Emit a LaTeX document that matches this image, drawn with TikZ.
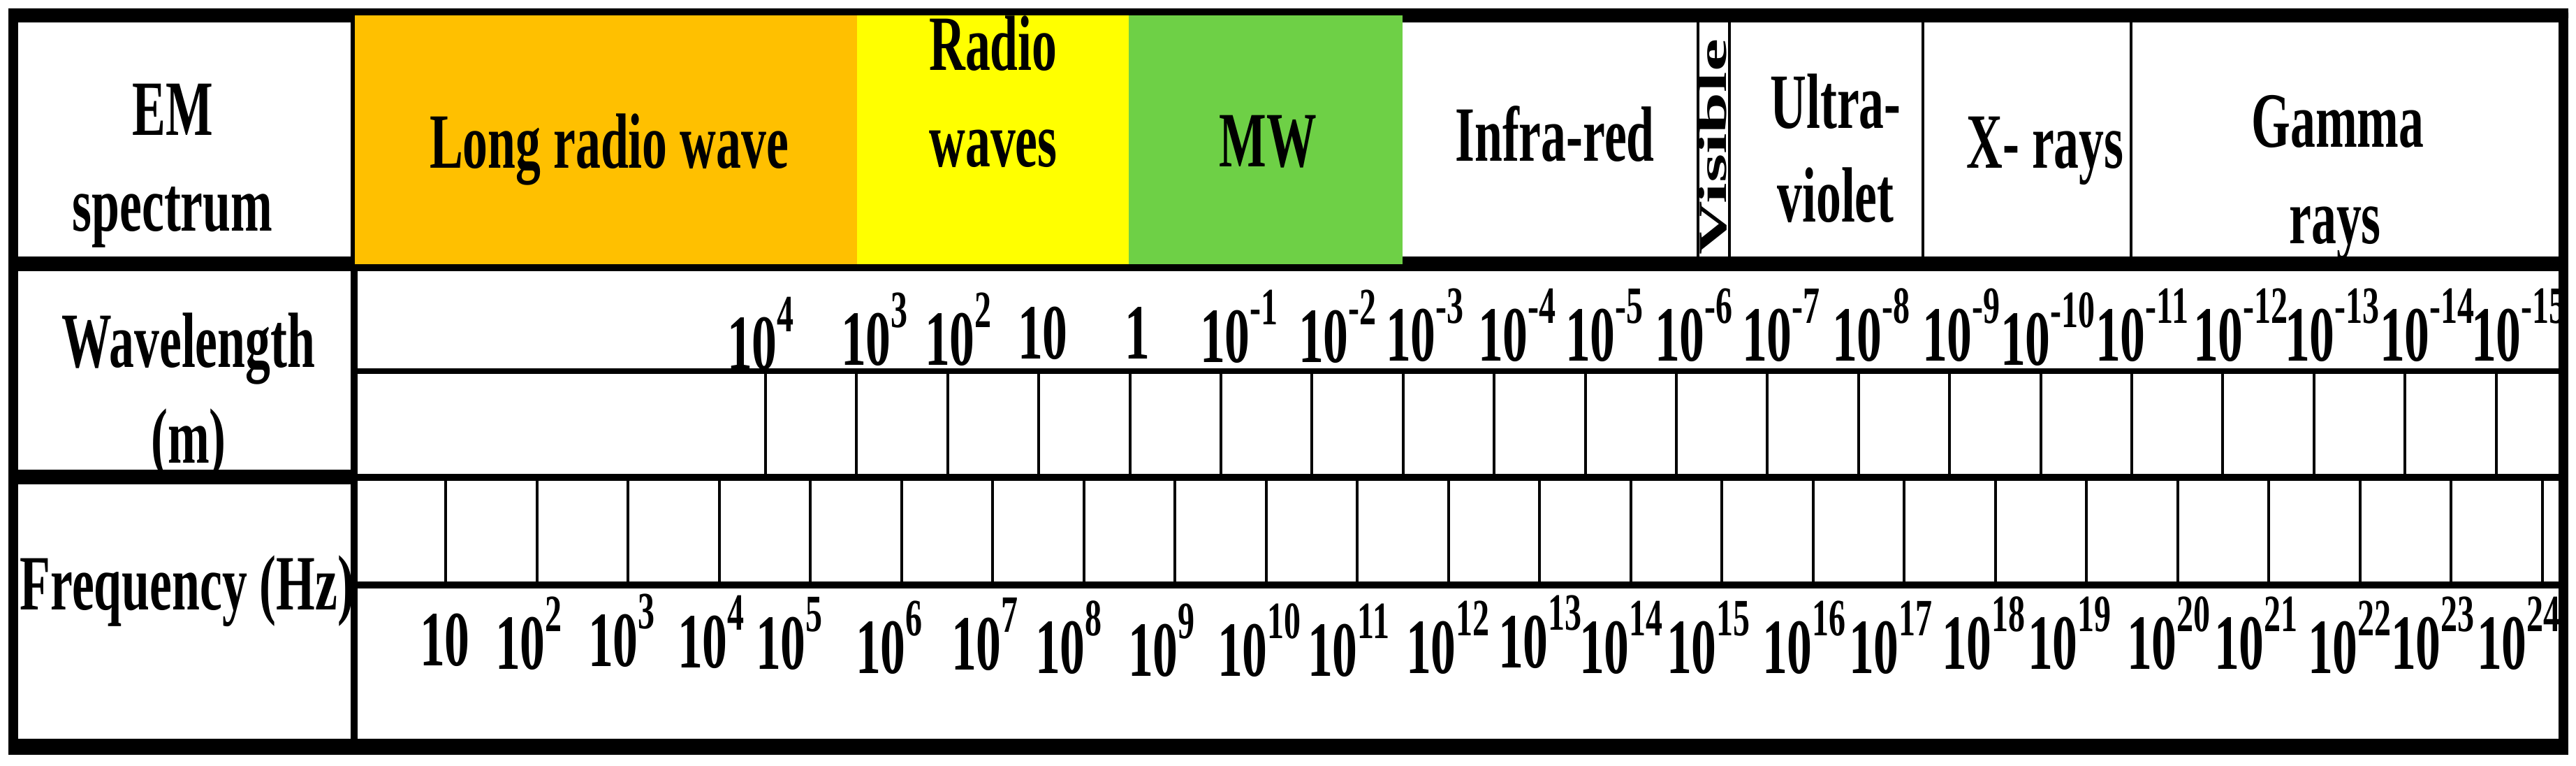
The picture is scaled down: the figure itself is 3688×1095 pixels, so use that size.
\documentclass[tikz,border=0pt]{standalone}
\usepackage{fontspec}
\setmainfont{Liberation Serif}[FakeStretch=0.64]
\newfontfamily\plainserif{Liberation Serif}
\definecolor{orng}{RGB}{255,192,0}
\definecolor{yllw}{RGB}{255,255,0}
\definecolor{grn}{RGB}{110,208,70}
\newcommand{\pw}[1]{10\raisebox{54pt}{\fontsize{75}{80}\selectfont#1}}
\begin{document}
\begin{tikzpicture}[x=1pt,y=-1pt,
  lbl/.style={inner sep=0pt, outer sep=0pt, anchor=base, font=\fontsize{112}{137}\selectfont\bfseries},
  num/.style={inner sep=0pt, outer sep=0pt, anchor=base west, font=\fontsize{112}{137}\selectfont\bfseries},
  rule/.style={fill=black},
  thin/.style={line width=4pt, black}]
\useasboundingbox (0,0) rectangle (3688,1095);
\fill[white] (0,0) rectangle (3688,1095);
% thick rules and frame
\fill[rule, rounded corners=6pt] (12,12) rectangle (3677,32);
\fill[rule] (12,1057) rectangle (3677,1080);
\fill[rule] (12,12) rectangle (26,1080);
\fill[rule] (3663,12) rectangle (3677,1080);
\fill[rule] (12,367) rectangle (3677,388);
\fill[rule] (12,672) rectangle (506,693);
\fill[rule] (506,678) rectangle (3677,688);
\fill[rule] (502,12) rectangle (512,1080);
\fill[rule] (509,527) rectangle (3663,535);
\fill[rule] (509,832) rectangle (3663,842);
% coloured cells
\fill[orng] (508,22) rectangle (1227,378);
\fill[yllw] (1227,22) rectangle (1616,378);
\fill[grn] (1616,22) rectangle (2008,378);
% row 1 dividers
\foreach \x in {2431,2476,2753,3051} \draw[thin] (\x,32) -- (\x,367);
% wavelength grid
\foreach \k in {0,...,19} \draw[thin] ({1096+130.4*\k},535) -- ({1096+130.4*\k},678);
% frequency grid
\foreach \k in {0,...,23} \draw[thin] ({638+130.5*\k},688) -- ({638+130.5*\k},832);
% label column
\node[lbl] (em1) at (247,193) {EM};
\node[lbl] (em2) at (247,330) {spectrum};
\node[lbl] (wl1) at (270,525) {Wavelength};
\node[lbl] (wl2) at (270,662) {(m)};
\node[lbl] (fq) at (268,872) {Frequency (Hz)};
% band names
\node[lbl] (lrw) at (872,240) {Long radio wave};
\node[lbl] (rw1) at (1422,100) {Radio};
\node[lbl] (rw2) at (1422,238) {waves};
\node[lbl] (mw) at (1815,238) {MW};
\node[lbl] (ir) at (2226,230) {Infra-red};
\begin{scope}
\clip (2433,32) rectangle (2474,367);
\node[inner sep=0pt, outer sep=0pt, rotate=90, anchor=base west] (vis) at (2471,364) {\plainserif\bfseries\fontsize{106}{106}\selectfont\scalebox{1}[0.54]{Visible}};
\end{scope}
\node[lbl] (uv1) at (2628,183) {Ultra-};
\node[lbl] (uv2) at (2628,317) {violet};
\node[lbl] (xr) at (2928,240) {X- rays};
\node[lbl] (gm1) at (3347,210) {Gamma};
\node[lbl] (gm2) at (3343,348) {rays};
% wavelength values
\foreach \x/\y/\t [count=\i] in {
  1041/528/{\pw{4}}, 1204/522/{\pw{3}}, 1324/522/{\pw{2}}, 1457/513/{10}, 1610/513/{1},
  1718/518/{\pw{-1}}, 1859/518/{\pw{-2}}, 1984/516/{\pw{-3}}, 2116/516/{\pw{-4}}, 2241/516/{\pw{-5}},
  2369/516/{\pw{-6}}, 2494/516/{\pw{-7}}, 2623/516/{\pw{-8}}, 2752/516/{\pw{-9}}, 2864/522/{\pw{-10}},
  3000/516/{\pw{-11}}, 3140/516/{\pw{-12}}, 3271/516/{\pw{-13}}, 3407/516/{\pw{-14}}, 3538/516/{\pw{-15}}}
  \node[num] (w\i) at (\x,\y) {\t};
% frequency values
\foreach \x/\y/\t [count=\i] in {
  601/952/{10}, 709/957/{\pw{2}}, 842/953/{\pw{3}}, 970/955/{\pw{4}}, 1082/957/{\pw{5}},
  1225/963/{\pw{6}}, 1362/958/{\pw{7}}, 1482/963/{\pw{8}}, 1615/967/{\pw{9}}, 1743/967/{\pw{10}},
  1872/967/{\pw{11}}, 2013/963/{\pw{12}}, 2145/955/{\pw{13}}, 2261/963/{\pw{14}}, 2386/963/{\pw{15}},
  2523/963/{\pw{16}}, 2647/963/{\pw{17}}, 2780/957/{\pw{18}}, 2903/957/{\pw{19}}, 3045/957/{\pw{20}},
  3170/957/{\pw{21}}, 3304/963/{\pw{22}}, 3423/957/{\pw{23}}, 3546/957/{\pw{24}}}
  \node[num] (f\i) at (\x,\y) {\t};
% right border on top of overflowing labels
\fill[rule] (3663,12) rectangle (3677,1080);
\end{tikzpicture}
\end{document}
